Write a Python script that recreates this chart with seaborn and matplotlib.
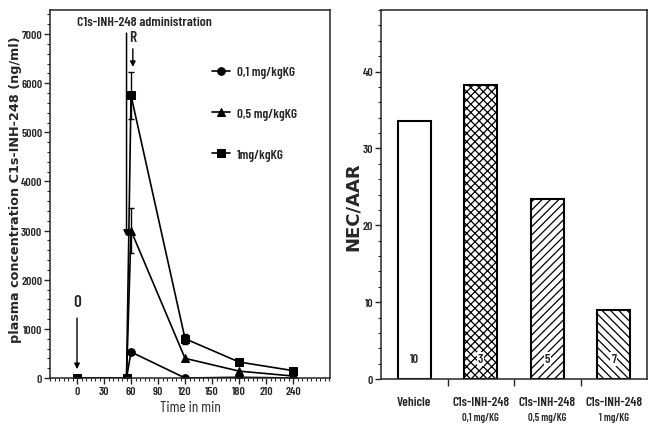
import numpy as np
import pandas as pd
import matplotlib
matplotlib.use("Agg")
import matplotlib.pyplot as plt
from matplotlib import font_manager as fm
from matplotlib.ticker import MultipleLocator, FixedLocator
import seaborn as sns

# ---------------- data ----------------
times = [0, 55, 60, 120, 180, 240]
dose_labels = ["0,1 mg/kgKG", "0,5 mg/kgKG", "1mg/kgKG"]
conc_01 = [0, 0, 530, 0, 15, 0]
conc_05 = [0, 0, 3000, 400, 140, 40]
conc_1 = [0, 0, 5750, 800, 325, 150]
err_05 = [0, 0, 450, 0, 0, 0]
err_1 = [0, 0, 480, 100, 50, 60]
time_ticks = [0, 30, 60, 90, 120, 150, 180, 210, 240]
conc_ticks = [0, 1000, 2000, 3000, 4000, 5000, 6000, 7000]

bar_names = ["Vehicle", "C1s-INH-248", "C1s-INH-248", "C1s-INH-248"]
bar_doses = ["", "0,1 mg/KG", "0,5 mg/KG", "1 mg/KG"]
bar_vals = [33.5, 38.2, 23.4, 9.0]
bar_n = ["10", "3", "5", "7"]
bar_hatches = ["", "xxxx", "////", "\\\\\\\\"]
nec_ticks = [0, 10, 20, 30, 40]


def has_font(name):
    try:
        fm.findfont(fm.FontProperties(family=name), fallback_to_default=False)
        return True
    except Exception:
        return False


sns.set_style("ticks")
narrow = next((f for f in ["Barlow Condensed", "Asap Condensed", "Roboto Condensed",
                           "Archivo Narrow", "Liberation Sans"] if has_font(f)), "DejaVu Sans")
plt.rcParams["font.family"] = [narrow, "DejaVu Sans"]
plt.rcParams["font.weight"] = 600
plt.rcParams["hatch.linewidth"] = 0.9

fig = plt.figure(figsize=(6.52, 4.31), dpi=100)
ax1 = fig.add_axes([50 / 652, 52 / 431, 280 / 652, 368 / 431])
ax2 = fig.add_axes([381 / 652, 51 / 431, 266 / 652, 369 / 431])

# ---------------- left panel ----------------
df = pd.DataFrame({
    "time": times * 3,
    "conc": conc_01 + conc_05 + conc_1,
    "dose": [dose_labels[0]] * len(times) + [dose_labels[1]] * len(times) + [dose_labels[2]] * len(times),
})
sns.lineplot(data=df, x="time", y="conc", hue="dose", style="dose",
             palette=["black"] * 3, markers=["o", "^", "s"], dashes=False,
             markersize=5.5, linewidth=1.2, markeredgecolor="black",
             ax=ax1, legend=True)

t = np.array(times)
for vals, errs in [(conc_05, err_05), (conc_1, err_1)]:
    v = np.array(vals); e = np.array(errs); m = e > 0
    ax1.errorbar(t[m], v[m], yerr=e[m], fmt="none", ecolor="black",
                 elinewidth=1.0, capsize=2, capthick=1.0)

ax1.set_xlim(-30, 281)
ax1.set_ylim(0, 7490)
ax1.set_xticks(time_ticks)
ax1.set_yticks(conc_ticks)
ax1.xaxis.set_minor_locator(MultipleLocator(5))
ax1.yaxis.set_minor_locator(MultipleLocator(200))
ax1.tick_params(axis="both", which="major", direction="out", length=4, width=1, labelsize=8.5, pad=1.5)
ax1.tick_params(axis="both", which="minor", direction="out", length=2.5, width=0.8)
for s in ax1.spines.values():
    s.set_linewidth(1.1)
    s.set_visible(True)
ax1.set_xlabel("Time in min", fontsize=11, labelpad=3)
ax1.set_ylabel("plasma concentration C1s-INH-248 (ng/ml)", fontsize=9.2,
               fontweight="bold", family="DejaVu Sans")
ax1.yaxis.set_label_coords(-0.10, 0.515)

leg = ax1.legend(loc="upper left", bbox_to_anchor=(0.536, 0.88), frameon=False,
                 fontsize=9.5, labelspacing=2.2, handlelength=1.36, handletextpad=0.55,
                 title=None)
for h in leg.legend_handles:
    h.set_color("black")

ax1.text(75, 7240, "C1s-INH-248 administration", ha="center", va="center", fontsize=10)
ax1.annotate("", xy=(55, 2880), xytext=(55, 7020),
             arrowprops=dict(arrowstyle="-|>", color="black", lw=1.1,
                             mutation_scale=9, shrinkA=0, shrinkB=0))
ax1.text(62, 6950, "R", ha="center", va="center", fontsize=11)
ax1.annotate("", xy=(62, 6330), xytext=(62, 6700),
             arrowprops=dict(arrowstyle="-|>", color="black", lw=1.0,
                             mutation_scale=8, shrinkA=0, shrinkB=0))
ax1.text(0, 1550, "O", ha="center", va="center", fontsize=12)
ax1.annotate("", xy=(0, 180), xytext=(0, 1220),
             arrowprops=dict(arrowstyle="-|>", color="black", lw=1.0,
                             mutation_scale=8, shrinkA=0, shrinkB=0))

# ---------------- right panel ----------------
bdf = pd.DataFrame({"group": [f"{a}\n{b}" for a, b in zip(bar_names, bar_doses)], "nec": bar_vals})
sns.barplot(data=bdf, x="group", y="nec", color="white", edgecolor="black",
            linewidth=1.5, width=0.5, ax=ax2, errorbar=None)
for p, h in zip(ax2.patches, bar_hatches):
    p.set_hatch(h)
    p.set_facecolor("white")
    p.set_edgecolor("black")

for i, n in enumerate(bar_n):
    ax2.text(i, 2.6, n, ha="center", va="center", fontsize=9,
             bbox=dict(facecolor="white", edgecolor="none", pad=0.6))

ax2.set_xlim(-0.5, 3.5)
ax2.set_ylim(0, 48)
ax2.set_yticks(nec_ticks)
ax2.yaxis.set_minor_locator(MultipleLocator(2))
ax2.set_xticks(range(len(bar_names)))
ax2.set_xticklabels(bar_names, fontsize=9.5)
ax2.xaxis.set_minor_locator(FixedLocator([0.5, 1.5, 2.5]))
ax2.tick_params(axis="x", which="major", length=0, pad=12)
ax2.tick_params(axis="x", which="minor", length=5, width=1, direction="out")
ax2.tick_params(axis="y", which="major", direction="out", length=4, width=1, labelsize=8.5, pad=1.5)
ax2.tick_params(axis="y", which="minor", direction="out", length=2.5, width=0.8)
for i, d in enumerate(bar_doses):
    if d:
        ax2.text(i, -0.104, d, ha="center", va="center", fontsize=7.5,
                 transform=ax2.get_xaxis_transform())
for s in ax2.spines.values():
    s.set_linewidth(1.1)
    s.set_visible(True)
ax2.set_xlabel("")
ax2.set_ylabel("NEC/AAR", fontsize=13, fontweight="bold", family="DejaVu Sans")
ax2.yaxis.set_label_coords(-0.072, 0.47)

fig.savefig("out.png", dpi=100)
